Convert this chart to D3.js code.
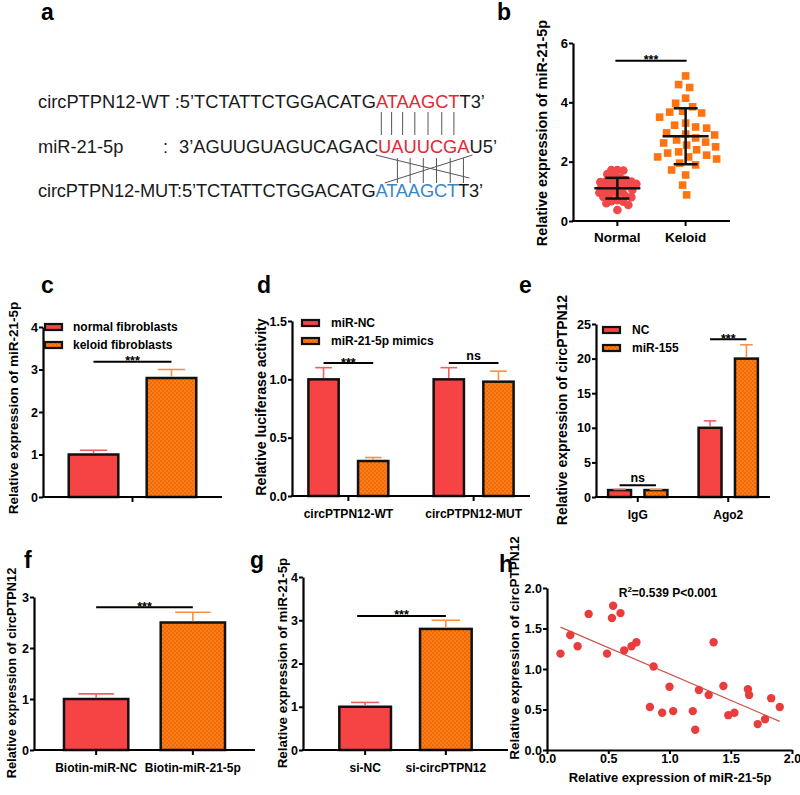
<!DOCTYPE html>
<html><head><meta charset="utf-8">
<script src="https://cdn.jsdelivr.net/npm/d3@7"></script>
<style>body{margin:0;background:#fff}svg{display:block}</style>
</head><body><svg id="c" width="800" height="795"></svg>
<script>
// ---------------- DATA ----------------
const seqWT  = ["circPTPN12-WT :5\u2019TCTATTCTGGACATG", "ATAAGCT", "T3\u2019"];
const miRName = "miR-21-5p";
const seqMiR = ["3\u2019AGUUGUAGUCAGAC", "UAUUCGA", "U5\u2019"];
const seqMUT = ["circPTPN12-MUT:5\u2019TCTATTCTGGACATG", "ATAAGCT", "T3\u2019"];

const bCategories = ["Normal", "Keloid"];
const bNormal = [1.72,1.72,1.70,1.55,1.58,1.45,1.38,1.35,1.40,1.31,1.33,1.21,1.18,1.25,1.15,1.12,1.01,0.98,1.05,0.95,1.00,0.84,0.81,0.86,0.80,0.67,0.70,0.65,0.54,0.60,0.37,1.10,1.20,0.90,1.28];
const bKeloid = [4.89,4.50,4.60,4.14,3.85,3.97,3.67,3.70,3.64,3.23,3.13,3.17,3.30,2.90,2.97,2.93,2.63,2.50,2.66,2.56,2.73,2.33,2.29,2.40,2.16,2.09,2.16,2.22,1.95,1.89,1.72,1.55,1.21,0.88,3.50,2.80];
const bTicks = [0,2,4,6];
const bSig = 5.4;

const cSeries = ["normal fibroblasts", "keloid fibroblasts"];
const cValues = [1.0, 2.8];
const cErrors = [0.1, 0.2];
const cTicks = [0,1,2,3,4];
const cSig = 3.18;

const dGroups = ["circPTPN12-WT", "circPTPN12-MUT"];
const dSeries = ["miR-NC", "miR-21-5p mimics"];
const dValues = [[1.0, 0.30], [1.0, 0.98]];
const dErrors = [[0.10, 0.03], [0.10, 0.09]];
const dTicks = [0, 0.5, 1.0, 1.5];
const dSigText = ["***", "ns"];
const dSig = [1.14, 1.14];

const eGroups = ["IgG", "Ago2"];
const eSeries = ["NC", "miR-155"];
const eValues = [[1.0, 1.0], [10, 20]];
const eErrors = [[0.1, 0.1], [1.0, 2.0]];
const eTicks = [0,5,10,15,20,25];
const eSigText = ["ns", "***"];
const eSig = [1.7, 22.8];

const fCategories = ["Biotin-miR-NC", "Biotin-miR-21-5p"];
const fValues = [1.0, 2.5];
const fErrors = [0.1, 0.2];
const fTicks = [0,1,2,3];
const fSig = 2.8;

const gCategories = ["si-NC", "si-circPTPN12"];
const gValues = [1.0, 2.8];
const gErrors = [0.1, 0.2];
const gTicks = [0,1,2,3,4];
const gSig = 3.1;

const hX = [0.11,0.19,0.25,0.34,0.49,0.53,0.54,0.60,0.63,0.69,0.73,0.87,0.84,0.94,1.00,1.03,1.19,1.21,1.24,1.32,1.36,1.44,1.48,1.53,1.64,1.65,1.72,1.78,1.83,1.90];
const hY = [1.19,1.42,1.28,1.68,1.19,1.63,1.78,1.69,1.23,1.28,1.33,1.03,0.53,0.46,0.78,0.48,0.48,0.25,0.74,0.68,1.33,0.79,0.43,0.46,0.75,0.68,0.32,0.38,0.64,0.53];
const hTicks = [0, 0.5, 1.0, 1.5, 2.0];

// ---------------- STYLE ----------------
const FONT = "'Liberation Sans', Arial, Helvetica, sans-serif";
const RED = "#f64444", ORANGE = "#ff7c16", ORANGE_DK = "#ec6b0b";
const ERR_RED = "#f06060", ERR_OR = "#f59045";
const TXT_RED = "#e42832", TXT_BLUE = "#3a86c6";

const svg = d3.select("#c");
svg.append("rect").attr("width", 800).attr("height", 795).attr("fill", "#fff");
const defs = svg.append("defs");
const pat = defs.append("pattern").attr("id", "chk").attr("width", 4).attr("height", 4).attr("patternUnits", "userSpaceOnUse");
pat.append("rect").attr("width", 4).attr("height", 4).attr("fill", ORANGE);
pat.append("rect").attr("width", 2).attr("height", 2).attr("fill", ORANGE_DK);
pat.append("rect").attr("x", 2).attr("y", 2).attr("width", 2).attr("height", 2).attr("fill", ORANGE_DK);

function txt(x, y, s, fs, opts = {}) {
  const t = svg.append("text").attr("x", x).attr("y", y).text(s)
    .attr("font-family", FONT).attr("font-size", fs)
    .attr("font-weight", opts.bold === false ? "normal" : "bold")
    .attr("fill", opts.fill || "#000")
    .attr("text-anchor", opts.anchor || "start");
  if (opts.rotate) t.attr("transform", `rotate(-90,${x},${y})`);
  return t;
}
function line(x1, y1, x2, y2, stroke, w) {
  return svg.append("line").attr("x1", x1).attr("y1", y1).attr("x2", x2).attr("y2", y2)
    .attr("stroke", stroke).attr("stroke-width", w);
}
function yAxis(y, x, ticks, fmt, fs, ts = 4, pad = 0) {
  const g = svg.append("g").attr("transform", `translate(${x},0)`);
  g.call(d3.axisLeft(y).tickValues(ticks).tickFormat(fmt).tickSize(ts).tickSizeOuter(0).tickPadding(pad));
  g.select(".domain").attr("stroke", "#000").attr("stroke-width", 2.2);
  g.selectAll(".tick line").attr("stroke", "#000").attr("stroke-width", 2);
  g.selectAll(".tick text").attr("font-family", FONT).attr("font-weight", "bold").attr("font-size", fs).attr("fill", "#000");
}
function xAxisLine(x0, x1, y0) { line(x0 - 1, y0, x1, y0, "#000", 2.2); }
function xTick(x, y0) { line(x, y0, x, y0 + 5, "#000", 2); }
function sig(xa, xb, yy, s) {
  line(xa, yy, xb, yy, "#000", 2);
  if (s === "ns") txt((xa + xb) / 2, yy - 3, s, 12.5, {anchor: "middle"});
  else txt((xa + xb) / 2, yy + 3.5, s, 12.5, {anchor: "middle"});
}
function legend(x, y, items, tx) {
  items.forEach((s, i) => {
    const yy = y + i * 18;
    svg.append("rect").attr("x", x).attr("y", yy - 3).attr("width", 17).attr("height", 6)
      .attr("fill", i === 0 ? RED : "url(#chk)").attr("stroke", "#111").attr("stroke-width", 2.2);
    txt(tx, yy + 4.3, s, 12);
  });
}
function panelLabel(s, x, y) { txt(x, y, s, 23); }

// generic bar panel
function barPanel(o) {
  const y = d3.scaleLinear().domain([0, o.yMax]).range([o.y0, o.yTop]);
  const xg = d3.scaleBand().domain(o.groups).range([o.x0, o.x1]).paddingInner(o.gp[0]).paddingOuter(o.gp[1]);
  const xs = d3.scaleBand().domain(o.series).range([0, xg.bandwidth()]).paddingInner(o.sp[0]).paddingOuter(o.sp[1]);
  const centers = [];
  o.groups.forEach((grp, gi) => {
    centers.push([]);
    o.series.forEach((s, si) => {
      const v = o.values[gi][si], e = o.errors[gi][si];
      const bx = xg(grp) + xs(s), bw = xs.bandwidth();
      const kind = o.kind(gi, si);
      const cx = bx + bw / 2, cw = bw * 0.55;
      centers[gi].push(cx);
      svg.append("rect").attr("x", bx).attr("y", y(v)).attr("width", bw).attr("height", y(0) - y(v))
        .attr("fill", kind ? "url(#chk)" : RED).attr("stroke", "#111").attr("stroke-width", 2.5);
      const ec = kind ? ERR_OR : ERR_RED;
      line(cx, y(v) - 1.3, cx, y(v + e), ec, 1.6);
      line(cx - cw / 2, y(v + e), cx + cw / 2, y(v + e), ec, 1.6);
    });
  });
  xAxisLine(o.x0, o.x1, o.y0);
  yAxis(y, o.x0, o.ticks, o.fmt, 12.5, 4, 1);
  o.groups.forEach(grp => {
    const cx = xg(grp) + xg.bandwidth() / 2;
    xTick(cx, o.y0);
    if (grp) txt(cx, o.y0 + 22, grp, 12, {anchor: "middle"});
  });
  return {y, xg, xs, centers};
}

// ---------------- PANEL A ----------------
panelLabel("a", 41, 20);
function seqLine(x, yb, parts, hi) {
  const t = svg.append("text").attr("x", x).attr("y", yb).attr("font-family", FONT).attr("font-size", 18.3).attr("fill", "#1a1a1a");
  parts.forEach((p, i) => t.append("tspan").text(p).attr("fill", i === 1 ? hi : "#1a1a1a"));
  return t;
}
const t1 = seqLine(38, 108, seqWT, TXT_RED);
txt(38, 153, miRName, 18.3, {bold: false, fill: "#1a1a1a"});
txt(163, 153, ":", 18.3, {bold: false, fill: "#1a1a1a"});
const t2 = seqLine(179, 153, seqMiR, TXT_RED);
const t3 = seqLine(38, 197, seqMUT, TXT_BLUE).attr("letter-spacing", -0.15);
function charCenters(t, parts) {
  const n = t.node(), off = parts[0].length, out = [];
  for (let i = 0; i < parts[1].length; i++) { const r = n.getExtentOfChar(off + i); out.push(r.x + r.width / 2); }
  return out;
}
const c1 = charCenters(t1, seqWT), c2 = charCenters(t2, seqMiR);
c1.forEach(cx => line(cx, 112, cx, 135, "#555", 1));
c2.slice(1).forEach(cx => line(cx, 158, cx, 183, "#555", 1));
line(c2[0] - 9, 155, c2[6] + 6, 178, "#555", 1);
line(c2[0], 183, c2[6] + 9, 155, "#555", 1);

// ---------------- PANEL B ----------------
panelLabel("b", 497, 20);
{
  const x0 = 573, x1 = 730, y0 = 221, yT = 43;
  const y = d3.scaleLinear().domain([0, 6]).range([y0, yT]);
  const x = d3.scalePoint().domain(bCategories).range([x0, x1]).padding(0.65);
  function swarm(vals, cx, minD) {
    const pts = vals.map(v => ({v, py: y(v)})).sort((a, b) => a.py - b.py);
    const placed = [];
    pts.forEach(p => {
      for (let k = 0; k < 200; k++) {
        const off = (k % 2 === 0 ? 1 : -1) * Math.ceil(k / 2) * 1;
        const px = cx + off;
        if (placed.every(q => Math.hypot(q.px - px, q.py - p.py) >= minD)) { p.px = px; break; }
      }
      placed.push(p);
    });
    return placed;
  }
  const nPts = swarm(bNormal, x("Normal"), 5.3);
  const kPts = swarm(bKeloid, x("Keloid"), 10.5);
  svg.append("g").selectAll("circle").data(nPts).join("circle")
    .attr("cx", d => d.px).attr("cy", d => d.py).attr("r", 4.3).attr("fill", "#f24848");
  svg.append("g").selectAll("rect").data(kPts).join("rect")
    .attr("x", d => d.px - 3.8).attr("y", d => d.py - 3.8).attr("width", 7.6).attr("height", 7.6).attr("fill", "#ff7410");
  [[bNormal, "Normal"], [bKeloid, "Keloid"]].forEach(([vals, cat]) => {
    const m = d3.mean(vals), sd = d3.deviation(vals), cx = x(cat);
    line(cx - 23, y(m), cx + 23, y(m), "#111", 2.5);
    line(cx, y(m - sd), cx, y(m + sd), "#111", 2.5);
    line(cx - 12, y(m - sd), cx + 12, y(m - sd), "#111", 2.5);
    line(cx - 12, y(m + sd), cx + 12, y(m + sd), "#111", 2.5);
  });
  xAxisLine(x0, x1, y0);
  yAxis(y, x0, bTicks, d3.format("d"), 13, 4, 1);
  bCategories.forEach(c => { xTick(x(c), y0); txt(x(c), y0 + 21, c, 13.5, {anchor: "middle"}); });
  sig(x("Normal") - 2, x("Keloid") + 1, y(bSig), "***");
  txt(547, 133, "Relative expression of miR-21-5p", 14.4, {anchor: "middle", rotate: true});
}

// ---------------- PANEL C ----------------
panelLabel("c", 41, 293);
{
  const r = barPanel({x0: 43, x1: 222, y0: 497, yTop: 327, yMax: 4, ticks: cTicks, fmt: d3.format("d"),
    groups: [""], series: cSeries, values: [cValues], errors: [cErrors],
    gp: [0, 0], sp: [0.364, 0.33], kind: (gi, si) => si});
  sig(r.centers[0][0], r.centers[0][1], r.y(cSig), "***");
  legend(45, 327, cSeries, 73);
  txt(18, 408, "Relative expression of miR-21-5p", 13.5, {anchor: "middle", rotate: true});
}

// ---------------- PANEL D ----------------
panelLabel("d", 257, 293);
{
  const r = barPanel({x0: 292, x1: 530, y0: 496, yTop: 321, yMax: 1.5, ticks: dTicks, fmt: d3.format(".1f"),
    groups: dGroups, series: dSeries, values: dValues, errors: dErrors,
    gp: [0.1, 0], sp: [0.39, 0.33], kind: (gi, si) => si});
  dGroups.forEach((g, gi) => sig(r.centers[gi][0], r.centers[gi][1], r.y(dSig[gi]), dSigText[gi]));
  legend(302, 323, dSeries, 331);
  txt(266, 407, "Relative luciferase activity", 14.2, {anchor: "middle", rotate: true});
}

// ---------------- PANEL E ----------------
panelLabel("e", 519, 293);
{
  const r = barPanel({x0: 596, x1: 770, y0: 497, yTop: 324, yMax: 25, ticks: eTicks, fmt: d3.format("d"),
    groups: eGroups, series: eSeries, values: eValues, errors: eErrors,
    gp: [0.2, 0.0615], sp: [0.37, 0.18], kind: (gi, si) => si});
  eGroups.forEach((g, gi) => sig(r.centers[gi][0], r.centers[gi][1], r.y(eSig[gi]), eSigText[gi]));
  legend(603, 330, eSeries, 632);
  txt(567, 410, "Relative expression of circPTPN12", 14, {anchor: "middle", rotate: true});
}

// ---------------- PANEL F ----------------
panelLabel("f", 24, 568);
{
  const r = barPanel({x0: 34, x1: 255, y0: 750, yTop: 597, yMax: 3, ticks: fTicks, fmt: d3.format("d"),
    groups: fCategories, series: ["v"], values: fValues.map(v => [v]), errors: fErrors.map(v => [v]),
    gp: [0.335, 0.31], sp: [0, 0], kind: (gi, si) => gi});
  sig(r.centers[0][0], r.centers[1][0], r.y(fSig), "***");
  txt(16, 673, "Relative expression of circPTPN12", 12.8, {anchor: "middle", rotate: true});
}

// ---------------- PANEL G ----------------
panelLabel("g", 250, 568);
{
  const r = barPanel({x0: 303, x1: 508, y0: 750, yTop: 577, yMax: 4, ticks: gTicks, fmt: d3.format("d"),
    groups: gCategories, series: ["v"], values: gValues.map(v => [v]), errors: gErrors.map(v => [v]),
    gp: [0.36, 0.45], sp: [0, 0], kind: (gi, si) => gi});
  sig(r.centers[0][0] - 8, r.centers[1][0], r.y(gSig), "***");
  txt(287, 663, "Relative expression of miR-21-5p", 13.4, {anchor: "middle", rotate: true});
}

// ---------------- PANEL H ----------------
{
  const x = d3.scaleLinear().domain([0, 2]).range([547, 792]);
  const y = d3.scaleLinear().domain([0, 2]).range([750, 588]);
  const gx = svg.append("g").attr("transform", "translate(0,750)");
  gx.call(d3.axisBottom(x).tickValues(hTicks).tickFormat(d3.format(".1f")).tickSize(4).tickSizeOuter(0).tickPadding(0));
  gx.select(".domain").attr("stroke", "#000").attr("stroke-width", 2.2);
  gx.selectAll(".tick line").attr("stroke", "#000").attr("stroke-width", 2);
  gx.selectAll(".tick text").attr("font-family", FONT).attr("font-weight", "bold").attr("font-size", 12.5).attr("fill", "#000");
  yAxis(y, 547, hTicks, d3.format(".1f"), 12.5, 4, 1);
  // regression
  const mx = d3.mean(hX), my = d3.mean(hY);
  const sxy = d3.sum(hX, (v, i) => (v - mx) * (hY[i] - my)), sxx = d3.sum(hX, v => (v - mx) * (v - mx));
  const slope = sxy / sxx, icpt = my - slope * mx;
  const xa = d3.min(hX), xb = d3.max(hX);
  line(x(xa), y(icpt + slope * xa), x(xb), y(icpt + slope * xb), "#c8584e", 1.2);
  svg.append("g").selectAll("circle").data(hX).join("circle")
    .attr("cx", d => x(d)).attr("cy", (d, i) => y(hY[i])).attr("r", 4.2).attr("fill", "#e93c3c");
  const rt = txt(668, 597, "R", 12, {anchor: "middle"});
  rt.append("tspan").text("2").attr("font-size", 8).attr("dy", -5);
  rt.append("tspan").text("=0.539 P<0.001").attr("dy", 5);
  txt(670, 782, "Relative expression of miR-21-5p", 12.9, {anchor: "middle"});
  txt(519, 648, "Relative expression of circPTPN12", 13.6, {anchor: "middle", rotate: true});
}
panelLabel("h", 499, 572);
</script></body></html>
